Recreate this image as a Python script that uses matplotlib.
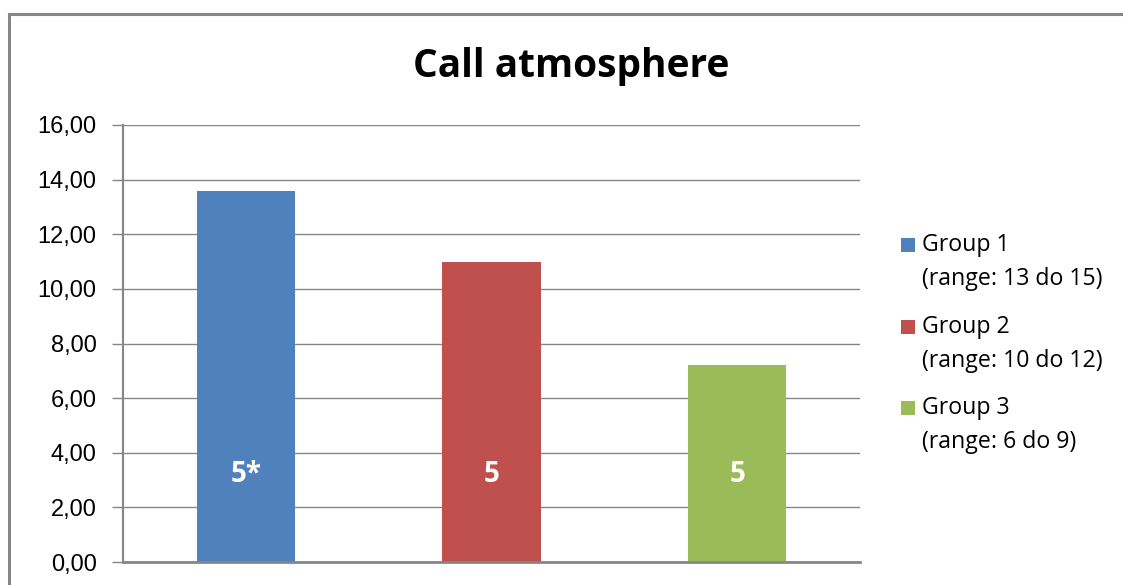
import numpy as np
import matplotlib.pyplot as plt
from matplotlib.patches import Rectangle

# data
groups = ["Group 1\n(range: 13 do 15)", "Group 2\n(range: 10 do 12)", "Group 3\n(range: 6 do 9)"]
values = [13.6, 11.0, 7.2]
bar_labels = ["5*", "5", "5"]
colors = ["#4F81BD", "#C0504D", "#9BBB59"]
yticks = [0, 2, 4, 6, 8, 10, 12, 14, 16]

W, H = 1123, 585
fig = plt.figure(figsize=(W / 100, H / 100), dpi=100)
fig.patch.set_facecolor("white")

# outer chart frame, runs off the right and bottom edges
fig.patches.append(Rectangle((8.5 / W, -0.1), 1.2, 1 - 13.5 / H + 0.1,
                             transform=fig.transFigure, fill=False,
                             edgecolor="#868686", linewidth=2.2))

ax = fig.add_axes([123 / W, 1 - 562 / H, (860 - 123) / W, (562 - 125) / H])
x = np.arange(len(values))
bars = ax.bar(x, values, width=0.4, color=colors, zorder=3)

ax.set_xlim(-0.5, len(values) - 0.5)
ax.set_ylim(0, 16)
ax.set_yticks(yticks)
ax.set_yticklabels([f"{v:.2f}".replace(".", ",") for v in yticks],
                   fontfamily="Liberation Sans", fontsize=17)
ax.set_xticks([])
ax.yaxis.grid(True, color="#868686", linewidth=1.0, zorder=0)
ax.tick_params(axis="y", length=8, width=1.0, color="#868686", pad=11)

for side in ["top", "right"]:
    ax.spines[side].set_visible(False)
ax.spines["left"].set_color("#868686")
ax.spines["left"].set_linewidth(1.5)
ax.spines["bottom"].set_color("#868686")
ax.spines["bottom"].set_linewidth(2.0)
ax.spines["bottom"].set_zorder(4)

# labels inside the bars
for xi, lab in zip(x, bar_labels):
    ax.text(xi, 3.2, lab, ha="center", va="center", color="white",
            fontsize=20, fontweight="bold", fontfamily="Open Sans", zorder=5)

fig.text(571 / W, 1 - 66 / H, "Call atmosphere", ha="center", va="center",
         fontsize=28, fontweight="bold", fontfamily="Open Sans")

# legend drawn as squares + text
leg_y = [245, 327, 408]
for c, g, yy in zip(colors, groups, leg_y):
    fig.patches.append(Rectangle((901 / W, 1 - (yy + 7) / H), 14 / W, 14 / H,
                                 transform=fig.transFigure, facecolor=c,
                                 edgecolor="none"))
    name, rng = g.split("\n")
    fig.text(922 / W, 1 - yy / H, name, ha="left", va="center",
             fontsize=16.7, fontfamily="Open Sans")
    fig.text(922 / W, 1 - (yy + 34) / H, rng, ha="left", va="center",
             fontsize=16.7, fontfamily="Open Sans")

fig.savefig("out.png", dpi=100)
